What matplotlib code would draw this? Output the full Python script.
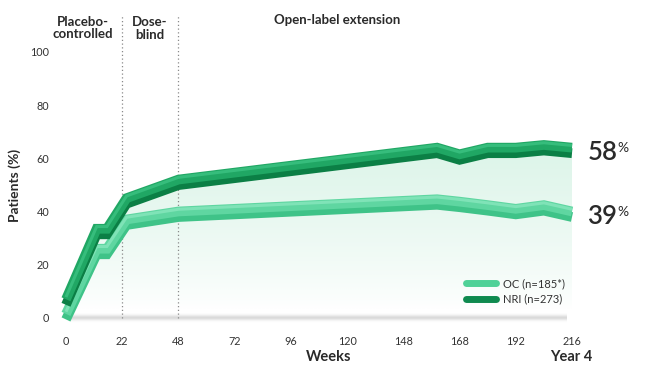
import numpy as np
import matplotlib
matplotlib.use("Agg")
import matplotlib.pyplot as plt
import matplotlib.patheffects as pe
from matplotlib.lines import Line2D

# ---------------- data ----------------
tick_weeks = [0, 22, 48, 72, 96, 120, 148, 168, 192, 216]
weeks = [0, 12, 16, 24, 48, 160, 168, 180, 192, 204, 216]
nri = [6, 32.5, 32.5, 44, 51, 63, 60.5, 63, 63, 64, 63]
oc = [0.5, 25, 25, 36, 39, 43.6, 42.7, 41.4, 40, 41.4, 39]
end_labels = ["58", "39"]
series_names = ["OC (n=185*)", "NRI (n=273)"]
y_ticks = [0, 20, 40, 60, 80, 100]
phase_bounds = [22, 48]
phase_labels = ["Placebo-\ncontrolled", "Dose-\nblind", "Open-label extension"]

FONT = "Lato"
plt.rcParams["font.family"] = [FONT, "DejaVu Sans"]
TXT = "#2a2a2a"

fig = plt.figure(figsize=(6.5, 3.76), dpi=100)
ax = fig.add_axes([66 / 650, (376 - 318) / 376, 506 / 650, 266 / 376])

# piecewise scale: tick weeks evenly spaced
ext_w = np.array([-220.0] + tick_weeks + [456.0])
ext_p = np.array([-10.0] + list(range(len(tick_weeks))) + [19.0])


def fwd(w):
    return np.interp(np.asarray(w, float), ext_w, ext_p)


def inv(p):
    return np.interp(np.asarray(p, float), ext_p, ext_w)


ax.set_xscale("function", functions=(fwd, inv))
ax.set_xlim(0, 216)
ax.set_ylim(0, 100)

# gradient fill under NRI
poly = ax.fill_between(weeks, 0, nri, facecolor="none", edgecolor="none")
top_c = np.array([0.86, 0.957, 0.91])
grad = np.linspace(0, 1, 200)[:, None]
grad = np.clip((grad - 0.05) / 0.95, 0, 1) ** 0.8
img = np.ones((200, 2, 3)) * (1 - grad[..., None]) + top_c * grad[..., None]
im = ax.imshow(img, extent=[0, 216, 0, 66], origin="lower", aspect="auto",
               zorder=1, interpolation="bilinear")
im.set_clip_path(poly.get_paths()[0], transform=ax.transData)

# baseline shadow
sy = np.linspace(-1, 1, 60)
alpha = 0.32 * np.exp(-(sy / 0.45) ** 2)
sh = np.zeros((60, 2, 4))
sh[..., :3] = 0.55
sh[..., 3] = alpha[:, None]
ax.imshow(sh, extent=[2, 214, -2.2, 2.2], origin="lower", aspect="auto",
          zorder=1.5, interpolation="bilinear", clip_on=False)
ax.set_xlim(0, 216)
ax.set_ylim(0, 100)

# phase boundaries
for b in phase_bounds:
    ax.plot([b, b], [0, 114], ls=(0, (1, 2)), color="#8a8a8a", lw=0.9,
            clip_on=False, zorder=2)


def ribbon(y, top, face, dark):
    ln, = ax.plot(weeks, y, color=face, lw=7, zorder=4, clip_on=False,
                  solid_joinstyle="miter", solid_capstyle="butt")
    ln.set_path_effects([
        pe.Stroke(offset=(0, -2), linewidth=7, foreground=dark),
        pe.Stroke(offset=(0, 2), linewidth=7, foreground=face),
        pe.Stroke(offset=(0, 3.6), linewidth=2.2, foreground=top),
    ])
    return ln


ribbon(oc, "#7fe3b7", "#5fd6a1", "#3fc388")
ribbon(nri, "#36bd7c", "#20a764", "#0b7f45")

# end labels
for val, series in zip(end_labels, [nri, oc]):
    t = ax.annotate(val, xy=(216, series[-1]), xytext=(11, -1.5),
                    textcoords="offset points", ha="left", va="center",
                    fontsize=18.5, fontweight="semibold", color=TXT,
                    annotation_clip=False)
    ax.annotate("%", xy=(1, 0.93), xycoords=t, ha="left", va="top",
                fontsize=10, color=TXT, xytext=(0.3, 0),
                textcoords="offset points")

# axes styling
for s in ax.spines.values():
    s.set_visible(False)
ax.set_xticks(tick_weeks)
ax.set_xticklabels([str(w) for w in tick_weeks])
ax.set_yticks(y_ticks)
ax.tick_params(length=0, labelsize=7.8, colors="#333333")
ax.tick_params(axis="x", pad=13)
ax.tick_params(axis="y", pad=12)
ax.patch.set_visible(False)

fig.text(15 / 650, 1 - 185 / 376, "Patients (%)", rotation=90, ha="center",
         va="center", fontsize=10, fontweight="bold", color=TXT)
fig.text(329 / 650, 1 - 357 / 376, "Weeks", ha="center", va="center",
         fontsize=10.5, fontweight="bold", color=TXT)
fig.text(571 / 650, 1 - 357 / 376, "Year 4", ha="center", va="center",
         fontsize=10.5, fontweight="bold", color=TXT)

# phase headers
fig.text(83 / 650, 1 - 16 / 376, phase_labels[0], ha="center", va="top",
         fontsize=9.5, fontweight="bold", color=TXT, linespacing=1.05)
fig.text(150 / 650, 1 - 16 / 376, phase_labels[1], ha="center", va="top",
         fontsize=9.5, fontweight="bold", color=TXT, linespacing=1.12)
fig.text(337 / 650, 1 - 20 / 376, phase_labels[2], ha="center", va="center",
         fontsize=9.5, fontweight="bold", color=TXT)

# legend
handles = [Line2D([], [], color="#4fd197", lw=5, solid_capstyle="round"),
           Line2D([], [], color="#0f8a4f", lw=5, solid_capstyle="round")]
leg = fig.legend(handles, series_names, loc="upper left",
                 bbox_to_anchor=(466 / 650, 1 - 278 / 376), frameon=False,
                 fontsize=8, handlelength=2.7, handletextpad=0.6,
                 labelspacing=0.4, borderpad=0, borderaxespad=0)
for t in leg.get_texts():
    t.set_color("#333333")

fig.savefig("out.png", dpi=100)
